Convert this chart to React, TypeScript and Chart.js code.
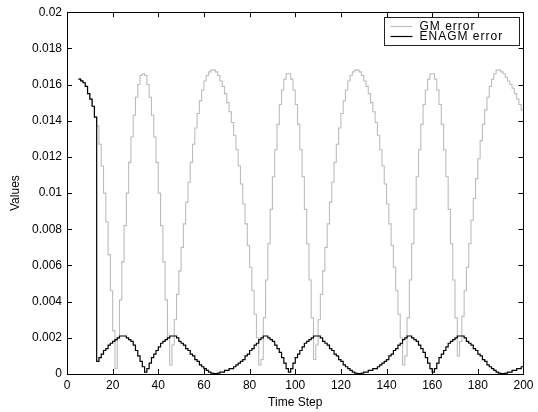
import React, { useEffect, useRef } from "react";
import { Chart, registerables } from "chart.js";

Chart.register(...registerables);

// ---- Data ----
const timeSteps = [
  5, 6, 7, 8, 9, 10, 11, 12, 13, 14, 15, 16, 17, 18, 19, 20, 21, 22, 23, 24,
  25, 26, 27, 28, 29, 30, 31, 32, 33, 34, 35, 36, 37, 38, 39, 40, 41, 42, 43, 44,
  45, 46, 47, 48, 49, 50, 51, 52, 53, 54, 55, 56, 57, 58, 59, 60, 61, 62, 63, 64,
  65, 66, 67, 68, 69, 70, 71, 72, 73, 74, 75, 76, 77, 78, 79, 80, 81, 82, 83, 84,
  85, 86, 87, 88, 89, 90, 91, 92, 93, 94, 95, 96, 97, 98, 99, 100, 101, 102, 103, 104,
  105, 106, 107, 108, 109, 110, 111, 112, 113, 114, 115, 116, 117, 118, 119, 120, 121, 122, 123, 124,
  125, 126, 127, 128, 129, 130, 131, 132, 133, 134, 135, 136, 137, 138, 139, 140, 141, 142, 143, 144,
  145, 146, 147, 148, 149, 150, 151, 152, 153, 154, 155, 156, 157, 158, 159, 160, 161, 162, 163, 164,
  165, 166, 167, 168, 169, 170, 171, 172, 173, 174, 175, 176, 177, 178, 179, 180, 181, 182, 183, 184,
  185, 186, 187, 188, 189, 190, 191, 192, 193, 194, 195, 196, 197, 198, 199, 200,
];

const gmError = [
  // t 5-12
  0.0163, 0.0162, 0.0161, 0.0159, 0.0155, 0.0152, 0.0148, 0.0142,
  // t 13-21
  0.0137, 0.0127, 0.0115, 0.0100, 0.0084, 0.0066, 0.0046, 0.0024, 0.0003,
  // t 22-44
  0.0020, 0.0041, 0.0062, 0.0082, 0.0100, 0.0117, 0.0131, 0.0143, 0.0153, 0.0160,
  0.0165, 0.0166, 0.0165, 0.0160, 0.0153, 0.0143, 0.0131, 0.0117, 0.0100, 0.0082,
  0.0062, 0.0041, 0.0020,
  // t 45
  0.0005,
  // t 46-83
  0.0016, 0.0030, 0.0044, 0.0057, 0.0070, 0.0083, 0.0095, 0.0106, 0.0117, 0.0127,
  0.0136, 0.0144, 0.0151, 0.0157, 0.0162, 0.0165, 0.0167, 0.0168, 0.0168, 0.0167,
  0.0165, 0.0162, 0.0159, 0.0155, 0.0150, 0.0145, 0.0139, 0.0132, 0.0124, 0.0115,
  0.0105, 0.0094, 0.0083, 0.0071, 0.0059, 0.0046, 0.0033, 0.0020,
  // t 84-85
  0.0005, 0.0008,
  // t 86-107
  0.0031, 0.0052, 0.0072, 0.0091, 0.0109, 0.0124, 0.0138, 0.0149, 0.0157, 0.0163,
  0.0166, 0.0166, 0.0163, 0.0157, 0.0149, 0.0138, 0.0124, 0.0109, 0.0091, 0.0072,
  0.0052, 0.0031,
  // t 108
  0.0008,
  // t 109-146
  0.0016, 0.0030, 0.0044, 0.0057, 0.0070, 0.0083, 0.0095, 0.0106, 0.0117, 0.0127,
  0.0136, 0.0144, 0.0151, 0.0157, 0.0162, 0.0165, 0.0167, 0.0168, 0.0168, 0.0167,
  0.0165, 0.0162, 0.0159, 0.0155, 0.0150, 0.0145, 0.0139, 0.0132, 0.0124, 0.0115,
  0.0105, 0.0094, 0.0083, 0.0071, 0.0059, 0.0046, 0.0033, 0.0020,
  // t 147-148
  0.0005, 0.0010,
  // t 149-170
  0.0031, 0.0052, 0.0072, 0.0091, 0.0109, 0.0124, 0.0138, 0.0149, 0.0157, 0.0163,
  0.0166, 0.0166, 0.0163, 0.0157, 0.0149, 0.0138, 0.0124, 0.0109, 0.0091, 0.0072,
  0.0052, 0.0031,
  // t 171
  0.0010,
  // t 172-200
  0.0018, 0.0032, 0.0046, 0.0059, 0.0072, 0.0085, 0.0097, 0.0108, 0.0119, 0.0129,
  0.0138, 0.0146, 0.0153, 0.0159, 0.0163, 0.0166, 0.0168, 0.0168, 0.0167, 0.0166,
  0.0164, 0.0162, 0.0160, 0.0158, 0.0155, 0.0152, 0.0149, 0.0146, 0.0145,
];

const enagmError = [
  // t 5-12
  0.0163, 0.0162, 0.0161, 0.0159, 0.0155, 0.0152, 0.0148, 0.0142,
  // t 13-33
  0.0007, 0.0009, 0.0011, 0.0013, 0.0014, 0.0016, 0.0017, 0.0018, 0.0019, 0.0020,
  0.0021, 0.0021, 0.0021, 0.0020, 0.0019, 0.0018, 0.0016, 0.0013, 0.0010, 0.0007,
  0.0004,
  // t 34-63
  0.0001, 0.0003, 0.0006, 0.0009, 0.0011, 0.0013, 0.0015, 0.0017, 0.0018, 0.0019,
  0.0020, 0.0021, 0.0021, 0.0021, 0.0020, 0.0018, 0.0017, 0.0016, 0.0014, 0.0013,
  0.0011, 0.0010, 0.0008, 0.0007, 0.0005, 0.0004, 0.0003, 0.0002, 0.0001, 0.00005,
  // t 64-96
  0.00002, 0.00002, 0.00005, 0.0001, 0.0001, 0.0002, 0.0002, 0.0003, 0.0003, 0.0004,
  0.0005, 0.0006, 0.0007, 0.0008, 0.0010, 0.0011, 0.0013, 0.0014, 0.0016, 0.0017,
  0.0019, 0.0020, 0.0021, 0.0021, 0.0020, 0.0019, 0.0018, 0.0016, 0.0014, 0.0012,
  0.0009, 0.0006, 0.0003,
  // t 97-126
  0.0001, 0.0003, 0.0006, 0.0009, 0.0011, 0.0013, 0.0015, 0.0017, 0.0018, 0.0019,
  0.0020, 0.0021, 0.0021, 0.0021, 0.0020, 0.0018, 0.0017, 0.0016, 0.0014, 0.0013,
  0.0011, 0.0010, 0.0008, 0.0007, 0.0005, 0.0004, 0.0003, 0.0002, 0.0001, 0.00005,
  // t 127-159
  0.00002, 0.00002, 0.00005, 0.0001, 0.0001, 0.0002, 0.0002, 0.0003, 0.0003, 0.0004,
  0.0005, 0.0006, 0.0007, 0.0008, 0.0010, 0.0011, 0.0013, 0.0014, 0.0016, 0.0017,
  0.0019, 0.0020, 0.0021, 0.0021, 0.0020, 0.0019, 0.0018, 0.0016, 0.0014, 0.0012,
  0.0009, 0.0006, 0.0003,
  // t 160-189
  0.0001, 0.0003, 0.0006, 0.0009, 0.0011, 0.0013, 0.0015, 0.0017, 0.0018, 0.0019,
  0.0020, 0.0021, 0.0021, 0.0021, 0.0020, 0.0018, 0.0017, 0.0016, 0.0014, 0.0013,
  0.0011, 0.0010, 0.0008, 0.0007, 0.0005, 0.0004, 0.0003, 0.0002, 0.0001, 0.00005,
  // t 190-200
  0.00002, 0.00002, 0.00005, 0.0001, 0.0001, 0.0002, 0.0002, 0.0003, 0.0003, 0.0004,
  0.0005,
];

const xTickValues = [0, 20, 40, 60, 80, 100, 120, 140, 160, 180, 200];
const yTickValues = [0, 0.002, 0.004, 0.006, 0.008, 0.01, 0.012, 0.014, 0.016, 0.018, 0.02];
const yTickLabels = ["0", "0.002", "0.004", "0.006", "0.008", "0.01", "0.012", "0.014", "0.016", "0.018", "0.02"];
const seriesLabels = ["GM error", "ENAGM error"];
const seriesColors = ["#bcbcbc", "#000000"];
const xTitle = "Time Step";
const yTitle = "Values";

const FONT = "'Liberation Sans', Arial, Helvetica, sans-serif";

const framePlugin = {
  id: "matlabFrame",
  afterDatasetsDraw(chart: any) {
    const { ctx, chartArea, scales } = chart;
    const { left, right, top, bottom } = chartArea;
    const tick = 5;
    ctx.save();
    ctx.strokeStyle = "#000";
    ctx.lineWidth = 1;
    ctx.beginPath();
    for (const v of xTickValues) {
      const px = Math.round(scales.x.getPixelForValue(v)) + 0.5;
      ctx.moveTo(px, bottom);
      ctx.lineTo(px, bottom - tick);
      ctx.moveTo(px, top);
      ctx.lineTo(px, top + tick);
    }
    for (const v of yTickValues) {
      const py = Math.round(scales.y.getPixelForValue(v)) + 0.5;
      ctx.moveTo(left, py);
      ctx.lineTo(left + tick, py);
      ctx.moveTo(right, py);
      ctx.lineTo(right - tick, py);
    }
    ctx.stroke();
    ctx.strokeRect(Math.round(left) + 0.5, Math.round(top) + 0.5, Math.round(right - left), Math.round(bottom - top));
    ctx.restore();
  },
  afterDraw(chart: any) {
    const { ctx, chartArea } = chart;
    const boxW = 135;
    const boxH = 28;
    const bx = Math.round(chartArea.right - 4 - boxW) + 0.5;
    const by = Math.round(chartArea.top + 5) + 0.5;
    ctx.save();
    ctx.fillStyle = "#fff";
    ctx.fillRect(bx, by, boxW, boxH);
    ctx.strokeStyle = "#222";
    ctx.lineWidth = 1;
    ctx.strokeRect(bx, by, boxW, boxH);
    ctx.font = `12px ${FONT}`;
    try {
      (ctx as any).letterSpacing = "1px";
    } catch (e) {
      // ignore
    }
    ctx.textBaseline = "middle";
    ctx.textAlign = "left";
    chart.data.datasets.forEach((ds: any, i: number) => {
      const y = by + 9 + i * 10;
      ctx.strokeStyle = ds.borderColor;
      ctx.lineWidth = ds.borderWidth;
      ctx.beginPath();
      ctx.moveTo(bx + 6, y);
      ctx.lineTo(bx + 28, y);
      ctx.stroke();
      ctx.fillStyle = "#000";
      ctx.fillText(ds.label, bx + 35, y + 0.5);
    });
    ctx.restore();
  },
};

export default function App() {
  const canvasRef = useRef<HTMLCanvasElement | null>(null);

  useEffect(() => {
    if (!canvasRef.current) return;
    const toPoints = (vals: number[]) => timeSteps.map((t, i) => ({ x: t, y: vals[i] }));
    const chart = new Chart(canvasRef.current, {
      type: "line",
      data: {
        datasets: [
          {
            label: seriesLabels[0],
            data: toPoints(gmError),
            borderColor: seriesColors[0],
            borderWidth: 1.1,
            pointRadius: 0,
            stepped: "before",
            fill: false,
            order: 2,
          },
          {
            label: seriesLabels[1],
            data: toPoints(enagmError),
            borderColor: seriesColors[1],
            borderWidth: 1.2,
            pointRadius: 0,
            stepped: "before",
            fill: false,
            order: 1,
          },
        ],
      },
      options: {
        animation: false,
        responsive: false,
        maintainAspectRatio: false,
        layout: { padding: { left: 0, right: 12, top: 10, bottom: 0 } },
        plugins: {
          legend: { display: false },
          tooltip: { enabled: false },
          title: { display: false },
        },
        scales: {
          x: {
            type: "linear",
            min: 0,
            max: 200,
            offset: false,
            grid: { display: false, drawTicks: false },
            border: { display: false },
            afterBuildTicks: (scale: any) => {
              scale.ticks = xTickValues.map((v) => ({ value: v }));
            },
            afterFit: (scale: any) => {
              scale.height = 38;
            },
            ticks: {
              padding: 4.5,
              color: "#000",
              maxRotation: 0,
              autoSkip: false,
              font: { family: FONT, size: 12 },
              callback: (v: any) => String(v),
            },
            title: {
              display: true,
              text: xTitle,
              color: "#000",
              font: { family: FONT, size: 12 },
              padding: { top: 0, bottom: 1.8 },
            },
          },
          y: {
            type: "linear",
            min: 0,
            max: 0.02,
            grid: { display: false, drawTicks: false },
            border: { display: false },
            afterBuildTicks: (scale: any) => {
              scale.ticks = yTickValues.map((v) => ({ value: v }));
            },
            afterFit: (scale: any) => {
              scale.width = 67;
            },
            ticks: {
              padding: 5,
              color: "#000",
              autoSkip: false,
              font: { family: FONT, size: 12 },
              callback: (_v: any, i: number) => yTickLabels[i],
            },
            title: {
              display: true,
              text: yTitle,
              color: "#000",
              font: { family: FONT, size: 12 },
              padding: { top: 8.8, bottom: 0 },
            },
          },
        },
      },
      plugins: [framePlugin],
    });
    return () => chart.destroy();
  }, []);

  return (
    <div style={{ position: "absolute", left: 0, top: 0, width: 538, height: 412, background: "#fff" }}>
      <canvas ref={canvasRef} width={538} height={412} style={{ display: "block" }} />
    </div>
  );
}
